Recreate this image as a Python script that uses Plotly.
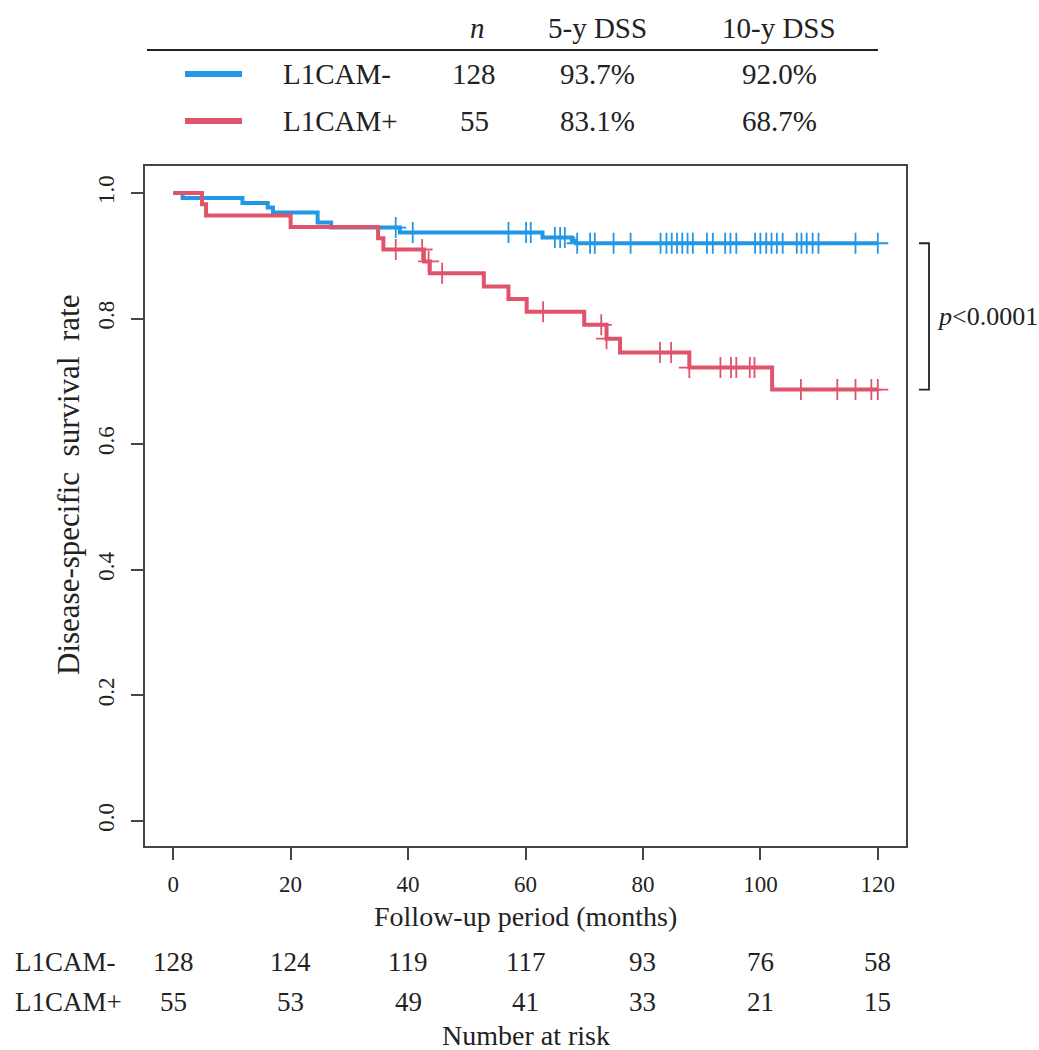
import numpy as np
import plotly.graph_objects as go

# ---- Kaplan-Meier curves: event times (months) and survival after each event ----
neg_event_t = [1.6, 11.8, 16.1, 17.0, 24.6, 26.9, 38.6, 62.9, 67.9, 68.6]
neg_surv = [0.992, 0.984, 0.977, 0.969, 0.953, 0.945, 0.937, 0.929, 0.924, 0.920]
neg_censor_t = [37.9, 40.8, 57.1, 60.1, 60.9, 65.0, 65.9, 66.7, 68.8, 71.0, 71.8,
                75.0, 77.9, 83.0, 84.0, 84.9, 85.8, 86.7, 87.6, 88.5, 90.9, 91.9,
                94.0, 94.9, 95.9, 99.1, 100.0, 101.0, 101.9, 102.8, 103.8, 106.2,
                107.0, 107.9, 108.9, 109.9, 116.2, 120.0]

pos_event_t = [4.9, 5.6, 20.0, 34.9, 35.8, 42.7, 43.7, 52.9, 57.1, 60.2, 70.0,
               73.8, 76.1, 87.9, 102.0]
pos_surv = [0.982, 0.964, 0.946, 0.928, 0.910, 0.891, 0.872, 0.851, 0.831, 0.811,
            0.790, 0.768, 0.746, 0.722, 0.687]
pos_censor_t = [37.9, 42.4, 43.5, 45.8, 63.0, 72.9, 73.8, 82.9, 84.8, 87.9, 93.2,
                95.0, 95.9, 98.2, 99.0, 106.9, 113.1, 116.2, 118.9, 120.0]

# ---- summary table ----
group_names = ["L1CAM-", "L1CAM+"]
group_n = [128, 55]
dss_5y = ["93.7%", "83.1%"]
dss_10y = ["92.0%", "68.7%"]
group_colors = ["#2297E6", "#DF536B"]

# ---- number at risk ----
risk_times = [0, 20, 40, 60, 80, 100, 120]
risk_neg = [128, 124, 119, 117, 93, 76, 58]
risk_pos = [55, 53, 49, 41, 33, 21, 15]

p_text = "<i>p</i>&lt;0.0001"
y_title = "Disease-specific\u00a0 survival\u00a0 rate"

FONT = "Liberation Serif"
W, H = 1039, 1050
ML, MR, MT, MB = 145, 133, 166, 204
PW, PH = W - ML - MR, H - MT - MB


def px_x(px):
    return (px - ML) / PW


def px_y(py):
    return (H - MB - py) / PH


def surv_at(times, ev_t, surv):
    idx = np.searchsorted(np.asarray(ev_t), np.asarray(times), side="right") - 1
    s = np.asarray(surv)
    return np.where(idx >= 0, s[np.clip(idx, 0, None)], 1.0)


fig = go.Figure()

curves = [
    (neg_event_t, neg_surv, neg_censor_t),
    (pos_event_t, pos_surv, pos_censor_t),
]
for (ev_t, surv, cens), name, color in zip(curves, group_names, group_colors):
    end_t = max(max(cens), max(ev_t))
    fig.add_trace(go.Scatter(
        x=[0] + list(ev_t) + [end_t],
        y=[1.0] + list(surv) + [surv[-1]],
        mode="lines", line=dict(color=color, width=4, shape="hv"),
        name=name, hoverinfo="skip",
    ))
    fig.add_trace(go.Scatter(
        x=cens, y=surv_at(cens, ev_t, surv),
        mode="markers",
        marker=dict(symbol="cross-thin", size=15,
                    line=dict(color=color, width=1.8)),
        name=name, hoverinfo="skip",
    ))

axis_common = dict(
    showline=True, linecolor="#444", linewidth=1.5, mirror=True,
    ticks="outside", ticklen=12, tickwidth=1.5, tickcolor="#444",
    showgrid=False, zeroline=False,
    tickfont=dict(family=FONT, size=23, color="#222"),
)
fig.update_xaxes(range=[-4.8, 124.8], tickvals=risk_times,
                 ticklabelstandoff=5, **axis_common)
fig.update_yaxes(range=[-0.04, 1.043], tickvals=[0, 0.2, 0.4, 0.6, 0.8, 1.0],
                 tickformat=".1f", tickangle=-90, ticklabelstandoff=8,
                 **axis_common)

annotations = []
shapes = []
txt = dict(family=FONT, size=28, color="#222")
risk_font = dict(family=FONT, size=27, color="#222")
tab = dict(family=FONT, size=29, color="#222")


def note(text, x, y, font, xref="paper", yref="paper", xanchor="center", **kw):
    annotations.append(dict(text=text, xref=xref, yref=yref, x=x, y=y,
                            showarrow=False, font=font, xanchor=xanchor,
                            yanchor="middle", **kw))


# axis titles
note("Follow-up period (months)", 0.5, px_y(916), txt)
note(y_title, px_x(68), px_y(485), dict(family=FONT, size=31, color="#222"),
     textangle=-90)

# number-at-risk table
for row_y, label, counts in [(962, group_names[0], risk_neg),
                             (1002, group_names[1], risk_pos)]:
    note(label, px_x(13), px_y(row_y), risk_font, xanchor="left")
    for t, c in zip(risk_times, counts):
        note(str(c), t, px_y(row_y), risk_font, xref="x")
note("Number at risk", 0.5, px_y(1035), txt)

# summary table above the plot
header_y = 28
note("<i>n</i>", px_x(477), px_y(header_y), tab)
note("5-y DSS", px_x(597), px_y(header_y), tab)
note("10-y DSS", px_x(779), px_y(header_y), tab)
shapes.append(dict(type="line", xref="paper", yref="paper",
                   x0=px_x(147), x1=px_x(878), y0=px_y(50), y1=px_y(50),
                   line=dict(color="#222", width=2)))
for row_y, name, n, d5, d10, color in zip([74, 121], group_names, group_n,
                                          dss_5y, dss_10y, group_colors):
    shapes.append(dict(type="line", xref="paper", yref="paper",
                       x0=px_x(185), x1=px_x(242), y0=px_y(row_y), y1=px_y(row_y),
                       line=dict(color=color, width=6)))
    note(name, px_x(281), px_y(row_y), tab, xanchor="left")
    note(str(n), px_x(474), px_y(row_y), tab)
    note(d5, px_x(597), px_y(row_y), tab)
    note(d10, px_x(779), px_y(row_y), tab)

# log-rank bracket between the curve ends
y_top, y_bot = neg_surv[-1], pos_surv[-1]
bx0, bx1 = px_x(919), px_x(929)
shapes.append(dict(type="path", xref="paper", yref="y",
                   path=f"M {bx0},{y_top} L {bx1},{y_top} L {bx1},{y_bot} L {bx0},{y_bot}",
                   line=dict(color="#222", width=1.8)))
note(p_text, px_x(935), (y_top + y_bot) / 2, dict(family=FONT, size=26, color="#222"),
     yref="y", xanchor="left")

fig.update_layout(
    width=W, height=H,
    margin=dict(l=ML, r=MR, t=MT, b=MB),
    paper_bgcolor="white", plot_bgcolor="white",
    showlegend=False,
    annotations=annotations, shapes=shapes,
    font=dict(family=FONT),
)

fig.write_html("out.html")
